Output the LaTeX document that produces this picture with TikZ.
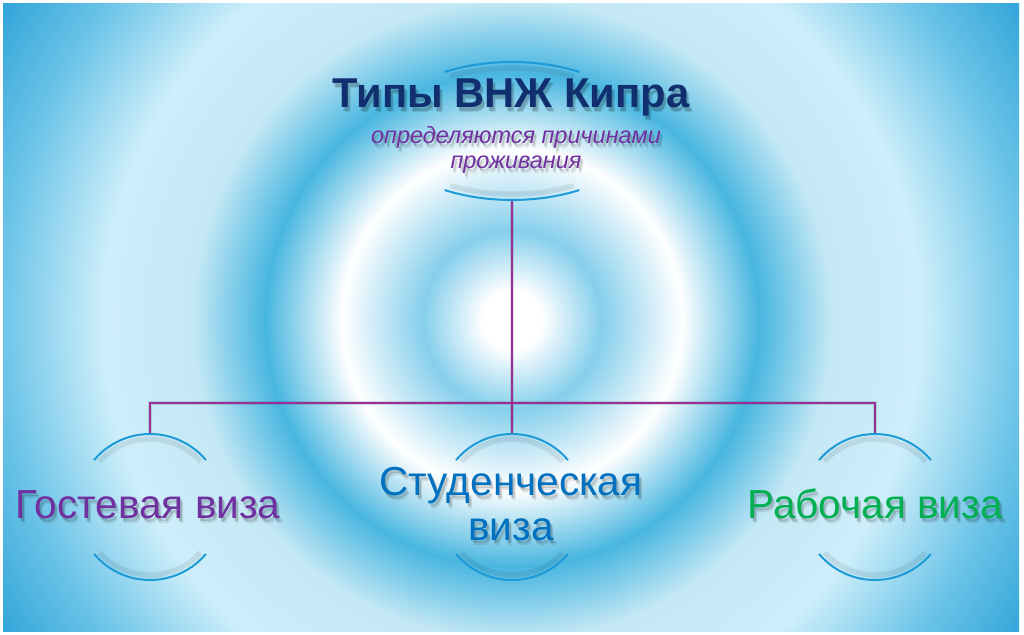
\documentclass[tikz,border=0pt]{standalone}
\usepackage{fontspec}
\setmainfont{Liberation Sans}
\usetikzlibrary{calc,shapes.geometric}
\definecolor{bgA}{HTML}{86CFEC}
\definecolor{bgB}{HTML}{48B6E0}
\definecolor{bgC}{HTML}{C5E8F5}
\definecolor{bgD}{HTML}{CDEEFA}
\definecolor{bgE}{HTML}{6CC4E8}
\definecolor{bgF}{HTML}{2EA3D8}
\definecolor{navy}{HTML}{112F6F}
\definecolor{vpurple}{HTML}{7030A0}
\definecolor{vblue}{HTML}{0070C0}
\definecolor{vgreen}{HTML}{00B050}
\definecolor{connc}{HTML}{9C2F97}
\definecolor{arcc}{HTML}{1E9AD6}
\pgfdeclareradialshading{rings}{\pgfpointorigin}{color(0bp)=(white); color(1.2bp)=(white); color(3.6bp)=(bgA); color(6.85bp)=(white); color(9.96bp)=(bgB); color(12.9bp)=(bgC); color(16.5bp)=(bgD); color(20.6bp)=(bgE); color(24.35bp)=(bgF); color(50bp)=(bgF)}
\newcommand{\shtext}[4]{%
  \foreach \dx/\dy/\op in {2/3/0.16, 3/5/0.09}{%
    \node[#3, text=black, text opacity=\op] at ($(#2)+(\dx,\dy)$) {#4};}
  \node[#3] (#1) at (#2) {#4};}
\tikzset{
  hub/.style={inner sep=0pt, draw=none},
  conn/.style={draw=connc, line width=1.5pt},
  connsh/.style={draw=black, line width=2.5pt, opacity=0.12},
  arcline/.style={draw=arcc, line width=1.5pt},
  arcsh/.style={draw=black, line width=4pt, opacity=0.08},
  ttl/.style={anchor=base, inner sep=0pt, text=navy, font=\fontsize{31.3}{37}\selectfont\bfseries},
  subt/.style={anchor=base, inner sep=0pt, text=vpurple, font=\fontsize{17.6}{21}\selectfont\itshape},
  lab/.style={anchor=base, inner sep=0pt, font=\fontsize{30.4}{36}\selectfont},
}
\begin{document}
\begin{tikzpicture}[x=0.75pt,y=-0.75pt]
\useasboundingbox (0,0) rectangle (1024,635);
\fill[white] (0,0) rectangle (1024,635);
\begin{scope}
\clip (3,4) rectangle (1019,631);
\shade[shading=rings] (512,320) circle (620);
\end{scope}
% hubs
\node[hub, ellipse, minimum width=195pt, minimum height=103.5pt] (top) at (512,131) {};
\node[hub, circle, minimum size=109.5pt] (g) at (150,507) {};
\node[hub, circle, minimum size=109.5pt] (s) at (512,507) {};
\node[hub, circle, minimum size=109.5pt] (r) at (875,507) {};
\coordinate (j) at (512,403);
% connector shadows
\begin{scope}[shift={(2,3)}]
\draw[connsh] (top.south) -- (j);
\draw[connsh] (j) -| (g.north);
\draw[connsh] (j) -| (r.north);
\draw[connsh] (j) -- (s.north);
\end{scope}
% connectors
\draw[conn] (top.south) -- (j);
\draw[conn] (j) -| (g.north);
\draw[conn] (j) -| (r.north);
\draw[conn] (j) -- (s.north);
% arcs shadows
\draw[arcsh] (top.center) ++(240:124 and 63) arc[start angle=240, end angle=300, x radius=124, y radius=63];
\draw[arcsh] (top.center) ++(60:124 and 63) arc[start angle=60, end angle=120, x radius=124, y radius=63];
\foreach \n in {g,s,r}{
  \draw[arcsh] (\n.center) ++(222:68) arc[start angle=222, end angle=318, radius=68];
  \draw[arcsh] (\n.center) ++(42:68) arc[start angle=42, end angle=138, radius=68];
}
% arcs
\draw[arcline] (top.center) ++(238.8:130 and 69) arc[start angle=238.8, end angle=301.2, x radius=130, y radius=69];
\draw[arcline] (top.center) ++(58.8:130 and 69) arc[start angle=58.8, end angle=121.2, x radius=130, y radius=69];
\foreach \n in {g,s,r}{
  \draw[arcline] (\n.center) ++(220:73) arc[start angle=220, end angle=320, radius=73];
  \draw[arcline] (\n.center) ++(40:73) arc[start angle=40, end angle=140, radius=73];
}
% texts
\shtext{title}{511,108}{ttl}{Типы ВНЖ Кипра}
\shtext{sub1}{516,143}{subt}{определяются причинами}
\shtext{sub2}{516,168}{subt}{проживания}
\shtext{tg}{148,518}{lab,text=vpurple}{Гостевая виза}
\shtext{ts1}{511,495}{lab,text=vblue}{Студенческая}
\shtext{ts2}{511,540}{lab,text=vblue}{виза}
\shtext{tr}{875,518}{lab,text=vgreen}{Рабочая виза}
\end{tikzpicture}
\end{document}
